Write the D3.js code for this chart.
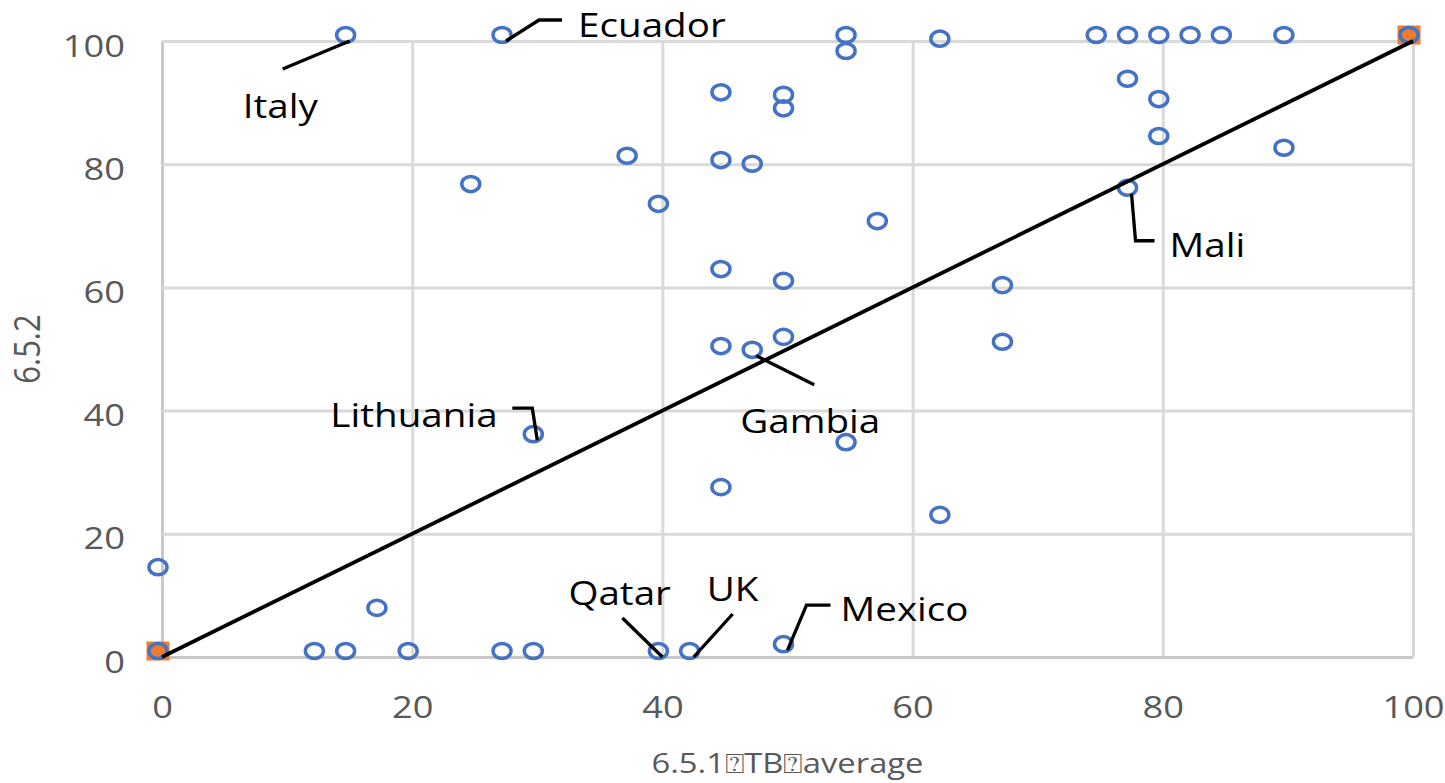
<!DOCTYPE html>
<html>
<head>
<meta charset="utf-8">
<script src="https://cdn.jsdelivr.net/npm/d3@7"></script>
<style>
  body { margin: 0; background: #fff; }
  svg { display: block; }
</style>
</head>
<body>
<svg id="chart"></svg>
<script>
const width = 1445;
const height = 783;

// 6.5.1 (TB average) per country
const xValues = [15, 27.5, 55, 55, 62.5, 75, 77.5, 80, 82.5, 85, 90, 100,
    45, 50, 50, 77.5, 80, 80, 90, 37.5, 45, 47.5, 25, 40, 57.5, 77.5,
    45, 50, 67.5, 45, 47.5, 50, 67.5, 30, 55, 45, 62.5, 0, 17.5,
    0, 12.5, 15, 20, 27.5, 30, 40, 42.5, 50];
// 6.5.2 per country
const yValues = [100, 100, 100, 97.4, 99.4, 100, 100, 100, 100, 100, 100, 100,
    90.7, 90.3, 88.1, 92.9, 89.6, 83.6, 81.7, 80.4, 79.7, 79.1, 75.8, 72.6, 69.8, 75.2,
    62.0, 60.1, 59.4, 49.5, 48.9, 51.0, 50.2, 35.2, 33.9, 26.6, 22.1, 13.6, 7.0,
    0, 0, 0, 0, 0, 0, 0, 0, 1.1];
const names = ['Italy', 'Ecuador', '', '', '', '', '', '', '', '', '', '',
    '', '', '', '', '', '', '', '', '', '', '', '', '', 'Mali',
    '', '', '', '', 'Gambia', '', '', 'Lithuania', '', '', '', '', '',
    '', '', '', '', '', '', 'Qatar', 'UK', 'Mexico'];

// reference line series
const refX = [0, 100];
const refY = [0, 100];

const ticks = [0, 20, 40, 60, 80, 100];
const xTitle = '6.5.1\u2370TB\u2370average';
const yTitle = '6.5.2';

// label placement, pixels relative to the point: text anchor + leader path
const labelLayout = {
    'Italy':     {text: [-107, 77], leader: [[0, 0], [-67, 28]]},
    'Ecuador':   {text: [72, -4],   leader: [[0, 0], [33, -21], [56, -21]]},
    'Lithuania': {text: [-207, -13], leader: [[0, 0], [-5, -32], [-25, -32]]},
    'Gambia':    {text: [-16, 77],  leader: [[0, 0], [58, 29]]},
    'Mali':      {text: [38, 63],   leader: [[0, 0], [4, 47], [23, 47]]},
    'Qatar':     {text: [-94, -52], leader: [[0, 0], [-40, -39]]},
    'UK':        {text: [13, -56],  leader: [[0, 0], [39, -43]]},
    'Mexico':    {text: [53, -29],  leader: [[0, 0], [19, -45], [43, -45]]}
};

const font = "'Open Sans', 'DejaVu Sans', sans-serif";
const stretch = 1.17;
const markerShift = [-4, -6];

const svg = d3.select('#chart').attr('width', width).attr('height', height);

const x = d3.scaleLinear().domain([0, 100]).range([162, 1413]);
const y = d3.scaleLinear().domain([0, 100]).range([657, 41]);

const points = xValues.map((v, i) => ({x: v, y: yValues[i], name: names[i]}));
const refPoints = refX.map((v, i) => ({x: v, y: refY[i]}));

// axes with gridlines
const xAxis = svg.append('g')
    .attr('transform', `translate(0, ${y(0)})`)
    .call(d3.axisBottom(x).tickValues(ticks).tickSize(-(y(0) - y(100))).tickFormat(d3.format('d')));
const yAxis = svg.append('g')
    .attr('transform', `translate(${x(0)}, 0)`)
    .call(d3.axisLeft(y).tickValues(ticks).tickSize(-(x(100) - x(0))).tickFormat(d3.format('d')));

[xAxis, yAxis].forEach(g => {
    g.select('.domain').remove();
    g.selectAll('.tick line')
        .attr('stroke', d => d === 0 ? '#c8c8c8' : '#d9d9d9')
        .attr('stroke-width', 3);
    g.selectAll('.tick text')
        .attr('fill', '#595959')
        .attr('font-family', font)
        .attr('font-size', 31)
        .attr('x', 0).attr('y', 0).attr('dy', null);
});
xAxis.selectAll('.tick text')
    .attr('text-anchor', 'middle')
    .attr('transform', `translate(0, 61) scale(${stretch}, 1)`);
yAxis.selectAll('.tick text')
    .attr('text-anchor', 'end')
    .attr('transform', `translate(-37, 15) scale(${stretch}, 1)`);

// orange series markers (drawn under the blue rings)
svg.append('g').selectAll('rect').data(refPoints).enter().append('rect')
    .attr('x', d => x(d.x) + markerShift[0] - 11.5)
    .attr('y', d => y(d.y) + markerShift[1] - 9.5)
    .attr('width', 23)
    .attr('height', 19)
    .attr('fill', '#ed7d31');

// blue series markers
svg.append('g').selectAll('ellipse').data(points).enter().append('ellipse')
    .attr('cx', d => x(d.x) + markerShift[0])
    .attr('cy', d => y(d.y) + markerShift[1])
    .attr('rx', 9)
    .attr('ry', 7.6)
    .attr('fill', 'none')
    .attr('stroke', '#4472c4')
    .attr('stroke-width', 3.5);

// reference line
svg.append('path')
    .datum(refPoints)
    .attr('d', d3.line().x(d => x(d.x)).y(d => y(d.y)))
    .attr('fill', 'none')
    .attr('stroke', '#000')
    .attr('stroke-width', 3.8);

// data labels with leader lines
const labelled = points.filter(d => d.name);
const labels = svg.append('g');
labels.selectAll('path').data(labelled).enter().append('path')
    .attr('d', d => d3.line()(labelLayout[d.name].leader.map(p => [x(d.x) + p[0], y(d.y) + p[1]])))
    .attr('fill', 'none')
    .attr('stroke', '#000')
    .attr('stroke-width', 3.3);
labels.selectAll('text').data(labelled).enter().append('text')
    .attr('transform', d => {
        const t = labelLayout[d.name].text;
        return `translate(${x(d.x) + t[0]}, ${y(d.y) + t[1]}) scale(${stretch}, 1)`;
    })
    .attr('font-family', font)
    .attr('font-size', 33)
    .attr('fill', '#000')
    .text(d => d.name);

// axis titles
svg.append('text')
    .attr('transform', `translate(${(x(0) + x(100)) / 2}, 773) scale(${stretch}, 1)`)
    .attr('text-anchor', 'middle')
    .attr('font-family', font)
    .attr('font-size', 28)
    .attr('fill', '#595959')
    .text(xTitle);

svg.append('text')
    .attr('transform', `translate(40, ${(y(0) + y(100)) / 2}) rotate(-90) scale(1, 1.2)`)
    .attr('text-anchor', 'middle')
    .attr('font-family', font)
    .attr('font-size', 31)
    .attr('fill', '#595959')
    .text(yTitle);
</script>
</body>
</html>
